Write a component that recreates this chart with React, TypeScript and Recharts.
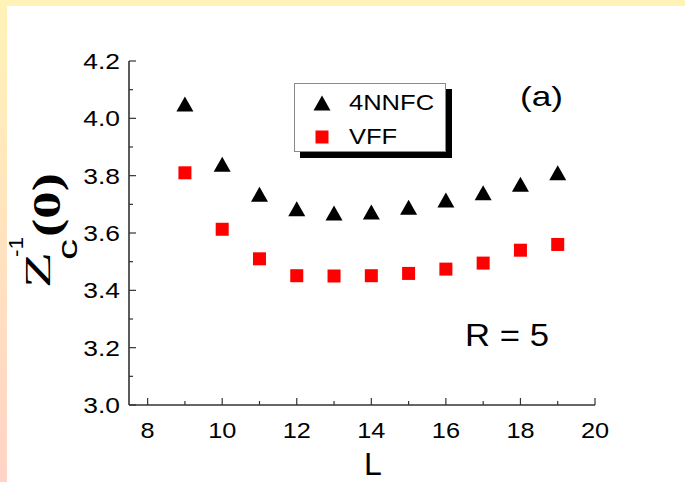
import React from "react";
import {
  ScatterChart,
  Scatter,
  XAxis,
  YAxis,
  Legend,
  Customized,
} from "recharts";

const lValues = [9, 10, 11, 12, 13, 14, 15, 16, 17, 18, 19];
const nnfcValues = [4.05, 3.84, 3.735, 3.685, 3.67, 3.673, 3.69, 3.715, 3.74, 3.77, 3.81];
const vffValues = [3.81, 3.613, 3.51, 3.451, 3.45, 3.451, 3.459, 3.474, 3.495, 3.54, 3.56];

const xTicks = [8, 9, 10, 11, 12, 13, 14, 15, 16, 17, 18, 19, 20];
const yTicks = [3.0, 3.1, 3.2, 3.3, 3.4, 3.5, 3.6, 3.7, 3.8, 3.9, 4.0, 4.1, 4.2];

const nnfcData = lValues.map((L, i) => ({ L, z: nnfcValues[i] }));
const vffData = lValues.map((L, i) => ({ L, z: vffValues[i] }));

const SANS = "Arial, 'Liberation Sans', sans-serif";
const SERIF = "'Times New Roman', 'Liberation Serif', serif";
const AXIS = "#333";
const MAJOR = 7;
const MINOR = 4;

const isMajorX = (v: number) => v % 2 === 0;
const isMajorY = (v: number) => Math.round(v * 10) % 2 === 0;

const XTick = (props: any) => {
  const { x, y, payload } = props;
  const major = isMajorX(payload.value);
  return (
    <g>
      <line x1={x} x2={x} y1={y} y2={y - (major ? MAJOR : MINOR)} stroke={AXIS} strokeWidth={1.2} />
      {major && (
        <text
          transform={`translate(${x},${y + 33}) scale(1.15,1)`}
          textAnchor="middle"
          fontFamily={SANS}
          fontSize={22}
          fill="#000"
        >
          {payload.value}
        </text>
      )}
    </g>
  );
};

const YTick = (props: any) => {
  const { x, y, payload } = props;
  const major = isMajorY(payload.value);
  return (
    <g>
      <line x1={x} x2={x + (major ? MAJOR : MINOR)} y1={y} y2={y} stroke={AXIS} strokeWidth={1.2} />
      {major && (
        <text
          transform={`translate(${x - 9},${y + 8}) scale(1.2,1)`}
          textAnchor="end"
          fontFamily={SANS}
          fontSize={22}
          fill="#000"
        >
          {Number(payload.value).toFixed(1)}
        </text>
      )}
    </g>
  );
};

const TopTick = (props: any) => {
  const { x, y, payload } = props;
  const len = isMajorX(payload.value) ? MAJOR : MINOR;
  return <line x1={x} x2={x} y1={y} y2={y + len} stroke={AXIS} strokeWidth={1.2} />;
};

const RightTick = (props: any) => {
  const { x, y, payload } = props;
  const len = isMajorY(payload.value) ? MAJOR : MINOR;
  return <line x1={x} x2={x - len} y1={y} y2={y} stroke={AXIS} strokeWidth={1.2} />;
};

const Triangle = (props: any) => {
  const { cx, cy } = props;
  return <polygon points={`${cx},${cy - 7.5} ${cx + 8.5},${cy + 7.5} ${cx - 8.5},${cy + 7.5}`} fill="#000" />;
};

const Square = (props: any) => {
  const { cx, cy } = props;
  return <rect x={cx - 6.5} y={cy - 6.5} width={13} height={13} fill="#ff0000" />;
};

const YLabel = (props: any) => {
  const vb = props.viewBox || { x: 0, y: 61 };
  const ox = vb.x + 50;
  const oy = vb.y + 227;
  return (
    <g transform={`translate(${ox},${oy}) rotate(-90)`} fill="#000">
      <text x={0} y={0} fontFamily={SERIF} fontSize={36} textLength={36} lengthAdjust="spacingAndGlyphs">
        Z
      </text>
      <text x={28} y={27} fontFamily={SANS} fontSize={27} textLength={21} lengthAdjust="spacingAndGlyphs">
        c
      </text>
      <text x={31} y={-27} fontFamily={SANS} fontSize={21} textLength={20} lengthAdjust="spacingAndGlyphs">
        -1
      </text>
      <text
        x={51}
        y={10}
        fontFamily={SERIF}
        fontWeight="bold"
        fontSize={40}
        textLength={64}
        lengthAdjust="spacingAndGlyphs"
      >
        (0)
      </text>
    </g>
  );
};

const XLabel = () => (
  <text x={373} y={475} textAnchor="middle" fontFamily={SANS} fontSize={32} fill="#000">
    L
  </text>
);

const Notes = () => (
  <g fontFamily={SANS} fill="#000">
    <text transform="translate(520,106) scale(1.3,1)" fontSize={27}>
      (a)
    </text>
    <text transform="translate(465,346) scale(1.12,1)" fontSize={31}>
      R = 5
    </text>
  </g>
);

const LegendBox = () => (
  <div
    style={{
      width: 152,
      height: 69,
      boxSizing: "border-box",
      border: "1px solid #8a8a8a",
      background: "#fff",
      boxShadow: "6px 6px 0 #000",
      position: "relative",
      fontFamily: SANS,
      fontSize: 22,
      color: "#000",
    }}
  >
    <svg width={152} height={69} style={{ position: "absolute", left: -1, top: -1 }}>
      <polygon points="28,12.5 36.5,27.5 19.5,27.5" fill="#000" />
      <rect x={21.5} y={47.5} width={13} height={13} fill="#ff0000" />
    </svg>
    <div style={{ position: "absolute", left: 54, top: 5, transform: "scaleX(1.16)", transformOrigin: "left", lineHeight: "28px" }}>
      4NNFC
    </div>
    <div style={{ position: "absolute", left: 54, top: 39, transform: "scaleX(1.16)", transformOrigin: "left", lineHeight: "28px" }}>
      VFF
    </div>
  </div>
);

export default function App() {
  return (
    <div style={{ position: "fixed", left: 0, top: 0, width: 685, height: 482, background: "#fff" }}>
      <div style={{ position: "absolute", left: 0, top: 0, width: 685, height: 6, background: "#fff3b8" }} />
      <div
        style={{
          position: "absolute",
          left: 0,
          top: 0,
          width: 7,
          height: 482,
          background: "linear-gradient(#fff3b8, #ffd3c6)",
        }}
      />
      <div style={{ position: "absolute", left: 0, top: 0 }}>
        <ScatterChart width={685} height={482} margin={{ top: 61, right: 90, bottom: 0, left: 0 }}>
          <XAxis
            type="number"
            dataKey="L"
            domain={[7.5, 20]}
            ticks={xTicks}
            interval={0}
            height={77}
            tickSize={0}
            tickMargin={0}
            tickLine={false}
            tick={<XTick />}
            axisLine={{ stroke: AXIS, strokeWidth: 1.6 }}
            allowDataOverflow
          />
          <XAxis
            xAxisId="top"
            orientation="top"
            type="number"
            domain={[7.5, 20]}
            ticks={xTicks}
            interval={0}
            height={0}
            tickSize={0}
            tickMargin={0}
            tickLine={false}
            tick={<TopTick />}
            axisLine={{ stroke: AXIS, strokeWidth: 1.6 }}
            allowDataOverflow
          />
          <YAxis
            type="number"
            dataKey="z"
            domain={[3.0, 4.2]}
            ticks={yTicks}
            interval={0}
            width={129}
            tickSize={0}
            tickMargin={0}
            tickLine={false}
            tick={<YTick />}
            axisLine={{ stroke: AXIS, strokeWidth: 1.6 }}
            label={<YLabel />}
            allowDataOverflow
          />
          <YAxis
            yAxisId="right"
            orientation="right"
            type="number"
            domain={[3.0, 4.2]}
            ticks={yTicks}
            interval={0}
            width={0}
            tickSize={0}
            tickMargin={0}
            tickLine={false}
            tick={<RightTick />}
            axisLine={{ stroke: AXIS, strokeWidth: 1.6 }}
            allowDataOverflow
          />
          <Scatter name="4NNFC" data={nnfcData} shape={<Triangle />} isAnimationActive={false} />
          <Scatter name="VFF" data={vffData} shape={<Square />} isAnimationActive={false} />
          <Legend
            layout="horizontal"
            verticalAlign="middle"
            align="center"
            wrapperStyle={{ left: 294, top: 83, width: 152 }}
            content={() => <LegendBox />}
          />
          <Customized component={XLabel} />
          <Customized component={Notes} />
        </ScatterChart>
      </div>
    </div>
  );
}
